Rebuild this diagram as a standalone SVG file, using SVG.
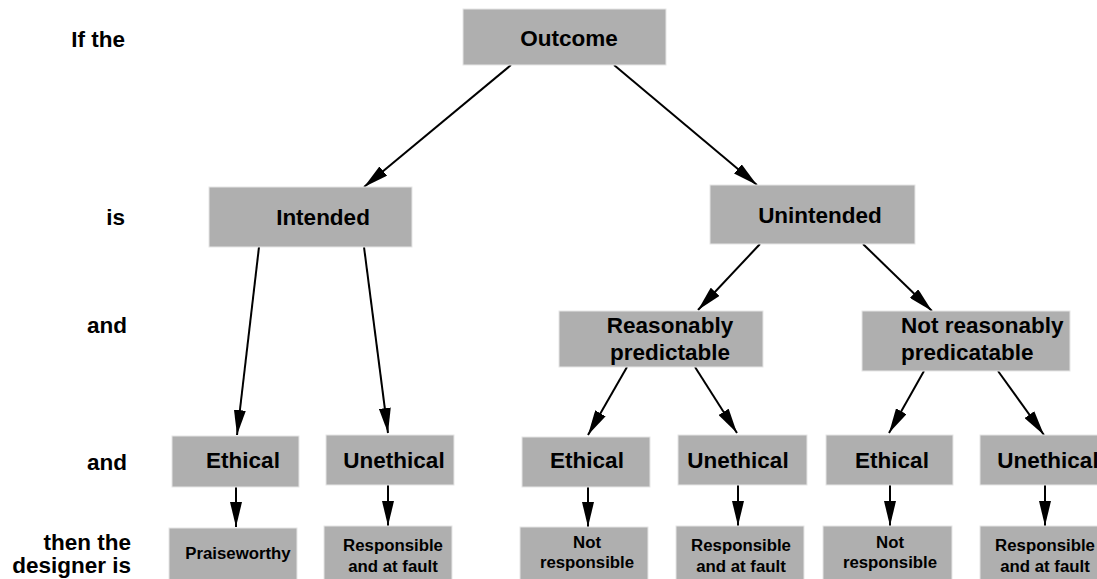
<svg xmlns="http://www.w3.org/2000/svg" width="1097" height="579" viewBox="0 0 1097 579">
<style>
.box{fill:#afafaf;stroke:#e6e6e6;stroke-width:1}
text{font-family:"Liberation Sans",Arial,sans-serif;font-weight:bold;fill:#000}
.lbl{font-size:22.5px;text-anchor:end}
.t{font-size:22.5px;text-anchor:middle}
.s{font-size:16.8px;text-anchor:middle}
.c{stroke:#000;stroke-width:2;fill:none;marker-end:url(#ah)}
</style>
<defs>
<marker id="ah" viewBox="0 0 25 12" refX="25" refY="6" markerWidth="25" markerHeight="12" markerUnits="userSpaceOnUse" orient="auto">
<path d="M0,0 L25,6 L0,12 Z" fill="#000"/>
</marker>
</defs>
<rect width="1097" height="579" fill="#fff"/>
<g id="labels">
<text class="lbl" x="125" y="47">If the</text>
<text class="lbl" x="125" y="225">is</text>
<text class="lbl" x="127" y="333">and</text>
<text class="lbl" x="127" y="470">and</text>
<text class="lbl" x="131" y="550">then the</text>
<text class="lbl" x="131" y="573">designer is</text>
</g>
<g id="connectors">
<line class="c" x1="511" y1="65" x2="364" y2="187"/>
<line class="c" x1="614" y1="65" x2="757" y2="185"/>
<line class="c" x1="259" y1="247" x2="237" y2="435"/>
<line class="c" x1="364" y1="247" x2="388" y2="433"/>
<line class="c" x1="760" y1="244" x2="698" y2="310"/>
<line class="c" x1="863" y1="244" x2="932" y2="311"/>
<line class="c" x1="627" y1="367" x2="588" y2="435"/>
<line class="c" x1="695" y1="367" x2="737" y2="433"/>
<line class="c" x1="924" y1="371" x2="889" y2="433"/>
<line class="c" x1="998" y1="371" x2="1044" y2="435"/>
<line class="c" x1="236" y1="487" x2="236" y2="527"/>
<line class="c" x1="388" y1="485" x2="388" y2="526"/>
<line class="c" x1="588" y1="487" x2="588" y2="527"/>
<line class="c" x1="738" y1="485" x2="738" y2="526"/>
<line class="c" x1="890" y1="485" x2="890" y2="526"/>
<line class="c" x1="1045" y1="485" x2="1045" y2="526"/>
</g>
<g id="outcome"><rect class="box" x="463" y="9" width="203" height="56"/><text class="t" x="569" y="46">Outcome</text></g>
<g id="intended"><rect class="box" x="209" y="187" width="203" height="60"/><text class="t" x="323" y="225">Intended</text></g>
<g id="unintended"><rect class="box" x="710" y="185" width="205" height="59"/><text class="t" x="820" y="223">Unintended</text></g>
<g id="reasonably"><rect class="box" x="559" y="311" width="204" height="56"/><text class="t" x="670" y="333">Reasonably</text><text class="t" x="670" y="360">predictable</text></g>
<g id="notreasonably"><rect class="box" x="862" y="311" width="208" height="60"/><text x="901" y="333" font-size="22.5">Not reasonably</text><text x="901" y="360" font-size="22.5">predicatable</text></g>
<g id="ethical1"><rect class="box" x="172" y="436" width="127" height="51"/><text class="t" x="243" y="468">Ethical</text></g>
<g id="unethical1"><rect class="box" x="326" y="435" width="128" height="50"/><text class="t" x="394" y="468">Unethical</text></g>
<g id="ethical2"><rect class="box" x="522" y="437" width="128" height="50"/><text class="t" x="587" y="468">Ethical</text></g>
<g id="unethical2"><rect class="box" x="678" y="435" width="129" height="50"/><text class="t" x="738" y="468">Unethical</text></g>
<g id="ethical3"><rect class="box" x="826" y="435" width="127" height="50"/><text class="t" x="892" y="468">Ethical</text></g>
<g id="unethical3"><rect class="box" x="980" y="435" width="130" height="50"/><text class="t" x="1048" y="468">Unethical</text></g>
<g id="praiseworthy"><rect class="box" x="169" y="528" width="128" height="52"/><text class="s" x="238" y="559">Praiseworthy</text></g>
<g id="responsible1"><rect class="box" x="324" y="526" width="128" height="54"/><text class="s" x="393" y="551">Responsible</text><text class="s" x="393" y="572">and at fault</text></g>
<g id="notresponsible2"><rect class="box" x="520" y="527" width="128" height="53"/><text class="s" x="587" y="548">Not</text><text class="s" x="587" y="568">responsible</text></g>
<g id="responsible2"><rect class="box" x="676" y="526" width="128" height="54"/><text class="s" x="741" y="551">Responsible</text><text class="s" x="741" y="572">and at fault</text></g>
<g id="notresponsible3"><rect class="box" x="823" y="526" width="129" height="54"/><text class="s" x="890" y="548">Not</text><text class="s" x="890" y="568">responsible</text></g>
<g id="responsible3"><rect class="box" x="980" y="526" width="130" height="54"/><text class="s" x="1045" y="551">Responsible</text><text class="s" x="1045" y="572">and at fault</text></g>
</svg>
